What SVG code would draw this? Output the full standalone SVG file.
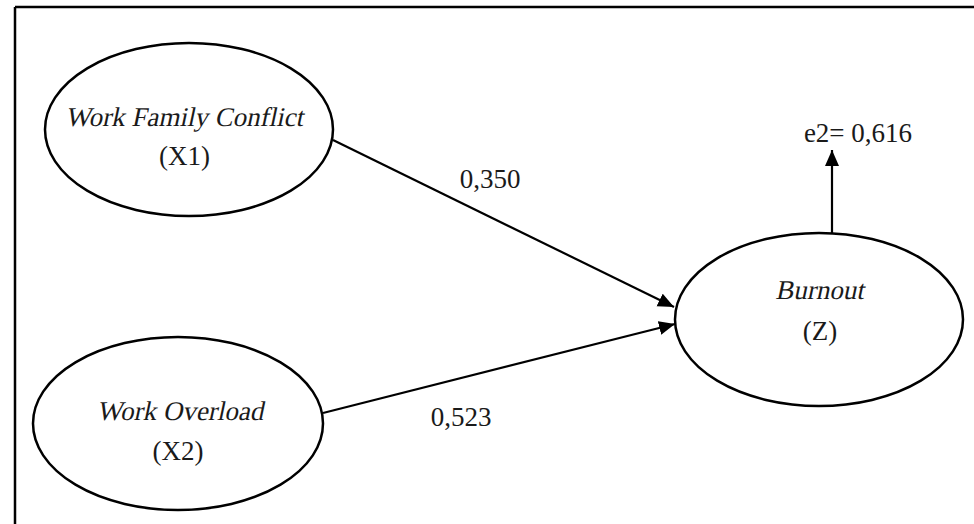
<svg xmlns="http://www.w3.org/2000/svg" width="974" height="524" viewBox="0 0 974 524">
<style>
.node ellipse{fill:#fff;stroke:#000;stroke-width:2.5}
.t{font-family:"Liberation Serif","DejaVu Serif",serif;font-size:27px;fill:#1a1a1a;text-anchor:middle}
.edge{stroke:#000;stroke-width:2.2;fill:none}
</style>
<defs>
<marker id="ah" markerUnits="userSpaceOnUse" markerWidth="18" markerHeight="16" refX="16" refY="7" orient="auto">
<path d="M0,0 L16,7 L0,14 Z" fill="#000"/>
</marker>
</defs>
<rect width="974" height="524" fill="#fff"/>
<g id="frame" stroke="#000" stroke-width="2.5">
<line x1="15" y1="7" x2="974" y2="7"/>
<line x1="15" y1="7" x2="15" y2="524"/>
</g>
<g id="connectors">
<line class="edge" x1="333" y1="140" x2="674" y2="307" marker-end="url(#ah)"/>
<line class="edge" x1="323" y1="413" x2="675" y2="324" marker-end="url(#ah)"/>
<line class="edge" x1="832" y1="233" x2="832" y2="150" marker-end="url(#ah)"/>
<text class="t" x="490" y="188">0,350</text>
<text class="t" x="461" y="426">0,523</text>
<text class="t" x="858" y="142">e2= 0,616</text>
</g>
<g id="x1" class="node">
<ellipse cx="189" cy="129.5" rx="144" ry="86.5"/>
<text class="t" transform="translate(184,126) skewX(-12)">Work Family Conflict</text>
<text class="t" x="184.5" y="165">(X1)</text>
</g>
<g id="x2" class="node">
<ellipse cx="178" cy="423.5" rx="145" ry="86.5"/>
<text class="t" transform="translate(180,420) skewX(-12)">Work Overload</text>
<text class="t" x="178" y="460">(X2)</text>
</g>
<g id="z" class="node">
<ellipse cx="819" cy="319.5" rx="144" ry="86.5"/>
<text class="t" transform="translate(819.5,299) skewX(-12)">Burnout</text>
<text class="t" x="820" y="340">(Z)</text>
</g>
</svg>
